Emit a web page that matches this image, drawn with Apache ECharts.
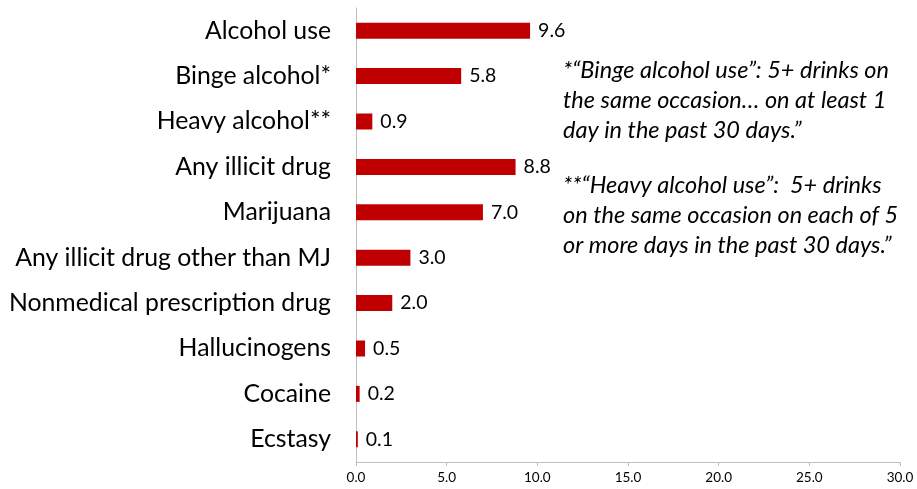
<!DOCTYPE html>
<html>
<head>
<meta charset="utf-8">
<script src="https://cdn.jsdelivr.net/npm/echarts@6/dist/echarts.min.js"></script>
<style>
  html, body { margin: 0; padding: 0; background: #fff; }
  #chart { width: 917px; height: 489px; }
</style>
</head>
<body>
<div id="chart"></div>
<script>
// Past-month substance use (%), top to bottom
const categories = [
  'Alcohol use',
  'Binge alcohol*',
  'Heavy alcohol**',
  'Any illicit drug',
  'Marijuana',
  'Any illicit drug other than MJ',
  'Nonmedical prescription drug',
  'Hallucinogens',
  'Cocaine',
  'Ecstasy'
];
const values = [9.6, 5.8, 0.9, 8.8, 7.0, 3.0, 2.0, 0.5, 0.2, 0.1];
const axisMin = 0;
const axisMax = 30;
const axisStep = 5;

const footnoteBinge = [
  '*\u201cBinge alcohol use\u201d: 5+ drinks on',
  'the same occasion\u2026 on at least 1',
  'day in the past 30 days.\u201d'
];
const footnoteHeavy = [
  '**\u201cHeavy alcohol use\u201d:  5+ drinks',
  'on the same occasion on each of 5',
  'or more days in the past 30 days.\u201d'
];

const FONT = 'Lato, "Open Sans", sans-serif';
const chart = echarts.init(document.getElementById('chart'), null, { renderer: 'canvas' });

function noteText(lines, top) {
  return {
    type: 'text',
    left: 563,
    top: top,
    style: {
      text: lines.join('\n'),
      font: 'italic 23.5px ' + FONT,
      lineHeight: 30,
      fill: '#000'
    }
  };
}

chart.setOption({
  animation: false,
  backgroundColor: '#fff',
  grid: { left: 356, right: 17, top: 8, bottom: 27, containLabel: false },
  xAxis: {
    type: 'value',
    min: axisMin,
    max: axisMax,
    interval: axisStep,
    axisLine: { show: true, lineStyle: { color: '#bfbfbf', width: 1 } },
    axisTick: { show: true, length: 4, lineStyle: { color: '#bfbfbf' } },
    splitLine: { show: false },
    axisLabel: {
      formatter: v => v.toFixed(1),
      fontFamily: FONT,
      fontSize: 13.5,
      color: '#000',
      margin: 9
    }
  },
  yAxis: {
    type: 'category',
    data: categories,
    inverse: true,
    axisLine: { show: true, lineStyle: { color: '#bfbfbf', width: 1 } },
    axisTick: { show: false },
    axisLabel: {
      fontFamily: FONT,
      fontSize: 24.8,
      color: '#000',
      margin: 25
    }
  },
  series: [{
    type: 'bar',
    data: values,
    barWidth: 16,
    itemStyle: { color: '#C00000' },
    label: {
      show: true,
      position: 'right',
      distance: 8,
      formatter: p => p.value.toFixed(1),
      fontFamily: FONT,
      fontSize: 19.5,
      color: '#000'
    }
  }],
  graphic: [
    noteText(footnoteBinge, 55),
    noteText(footnoteHeavy, 170)
  ]
});
</script>
</body>
</html>
